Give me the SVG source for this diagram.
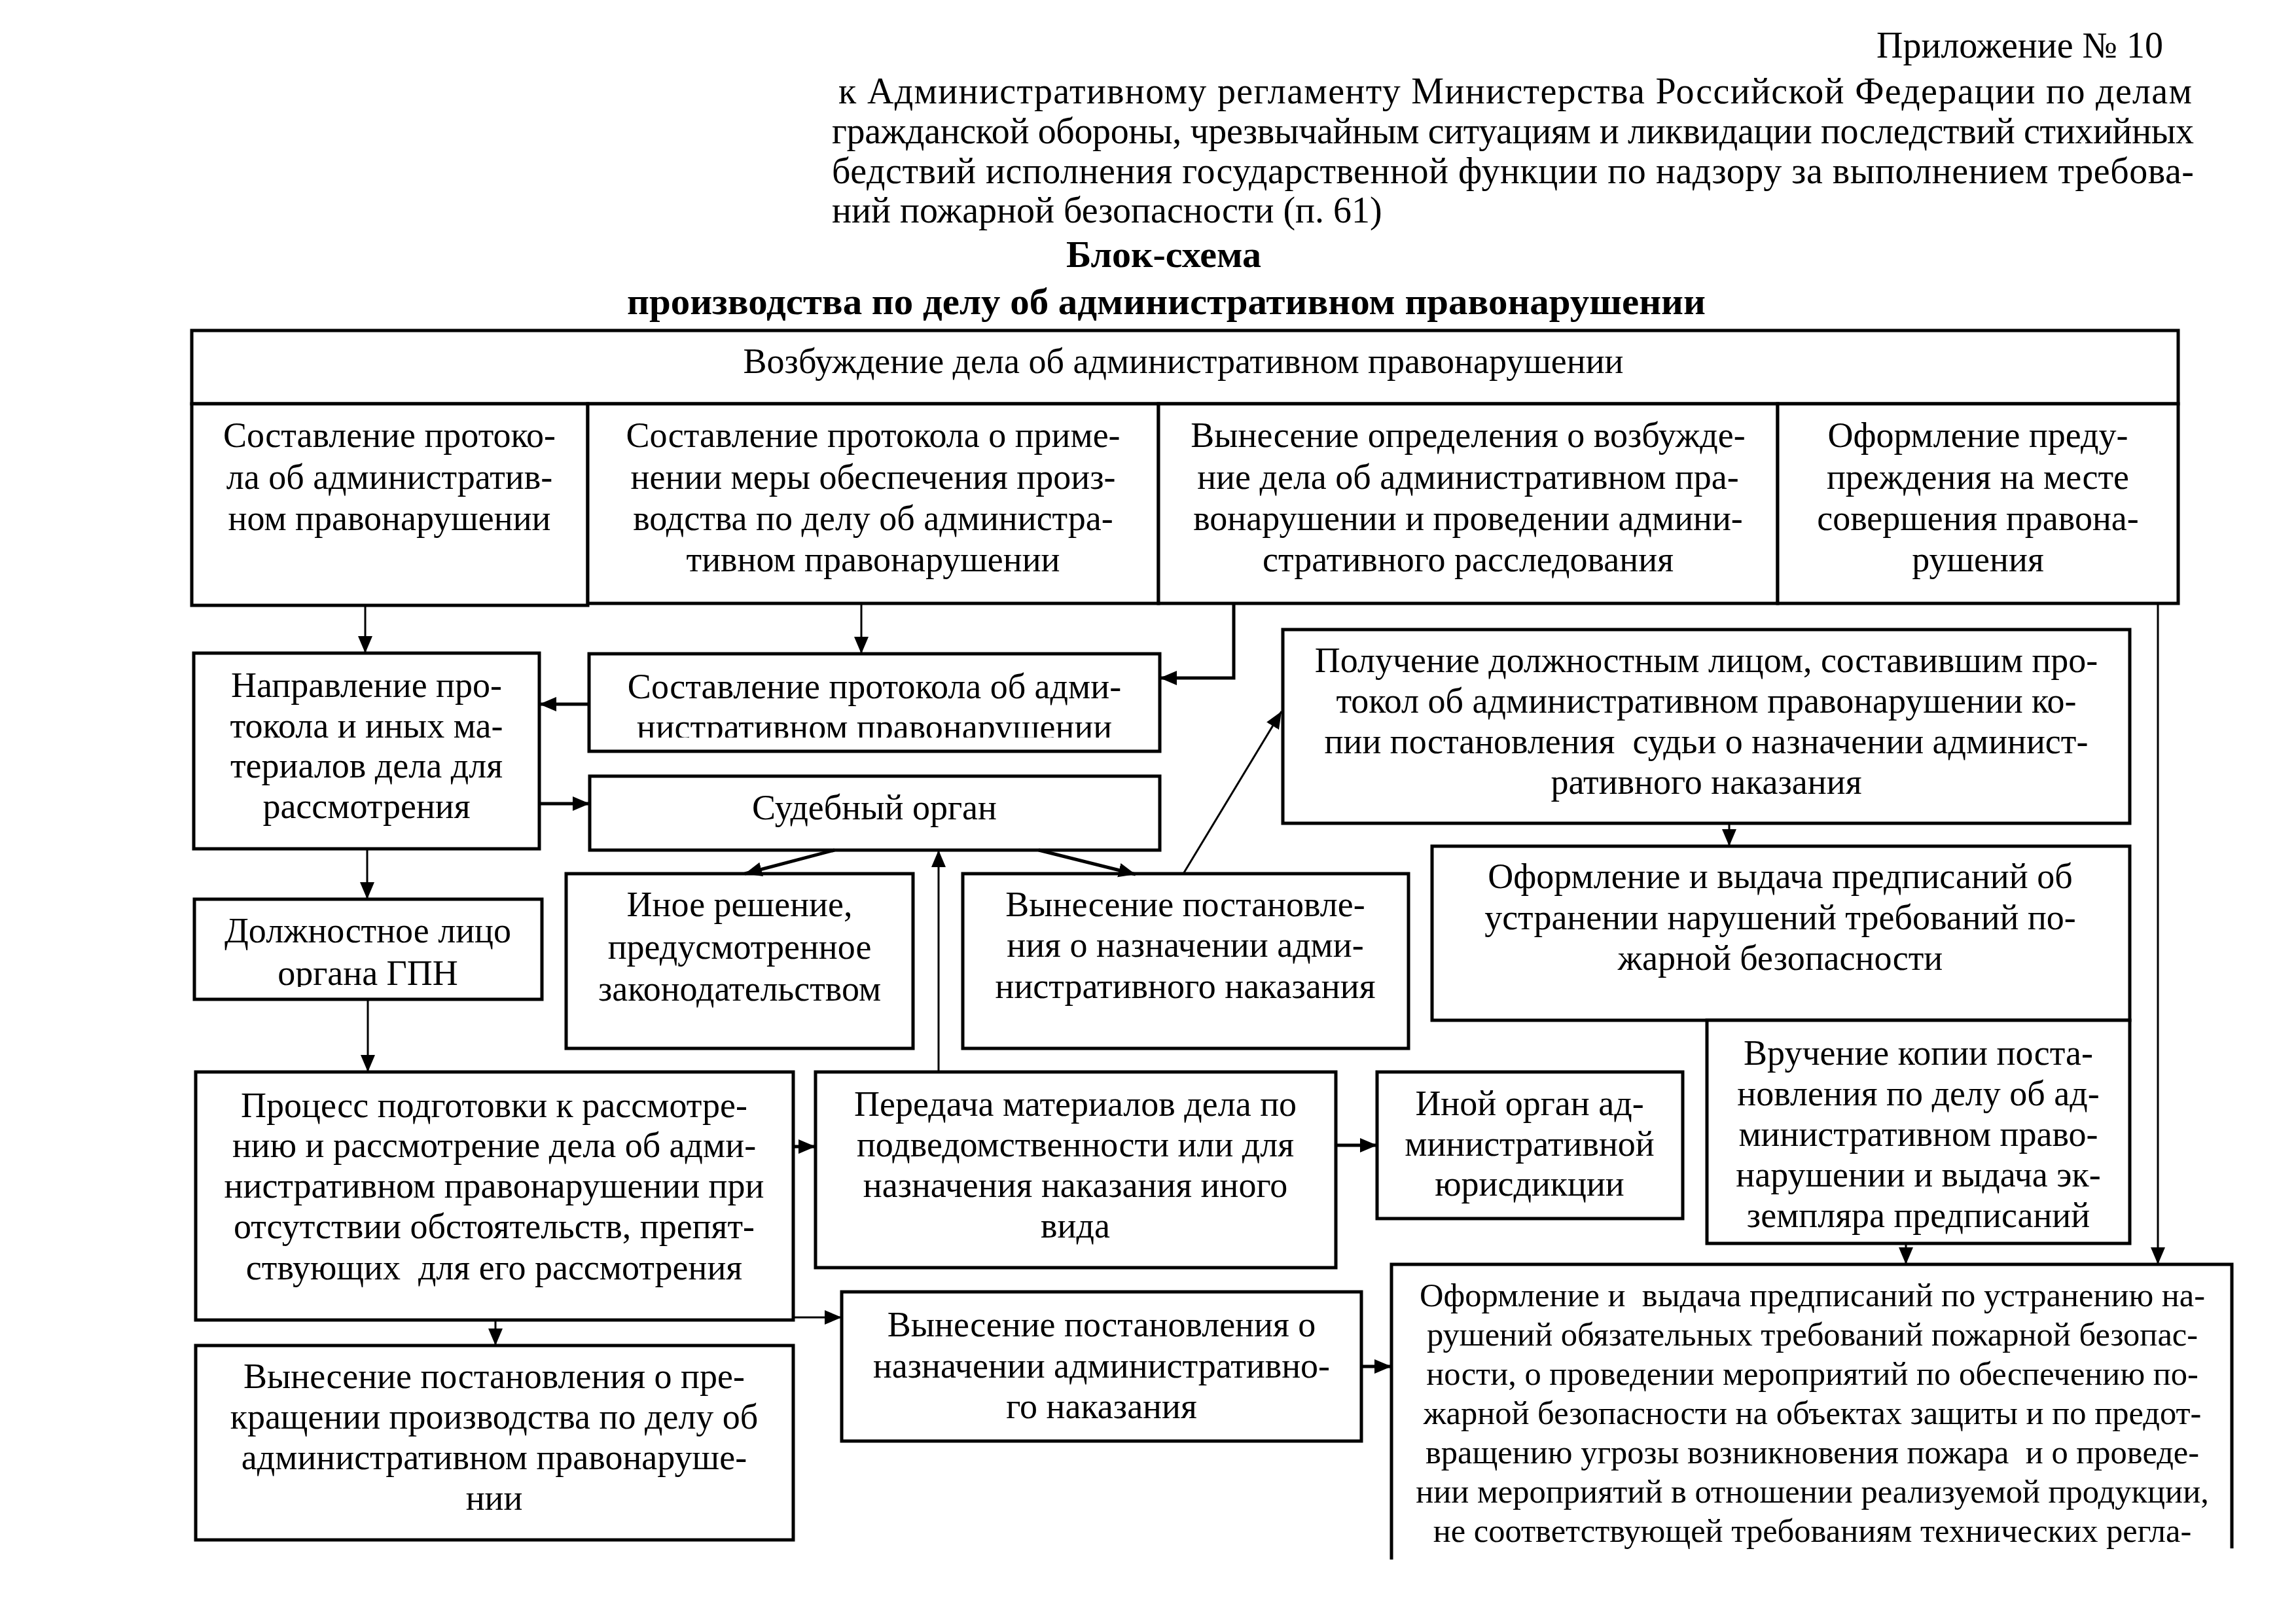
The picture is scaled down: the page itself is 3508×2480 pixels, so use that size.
<svg xmlns="http://www.w3.org/2000/svg" width="3508" height="2480" viewBox="0 0 3508 2480">
<style>
.b{fill:#fff;stroke:#000;stroke-width:5}
.t{font-family:"Liberation Serif","Times New Roman",serif;font-size:54px;text-anchor:middle;fill:#000;white-space:pre}
.tb{font-size:50.5px}
.h{font-family:"Liberation Serif","Times New Roman",serif;font-size:56px;fill:#000;white-space:pre}
.hb{font-family:"Liberation Serif","Times New Roman",serif;font-size:58px;font-weight:bold;text-anchor:middle;fill:#000}
.c{stroke:#000;stroke-width:3;fill:none}
.ck{stroke:#000;stroke-width:5;fill:none}
</style>
<defs>
<marker id="ah" markerUnits="userSpaceOnUse" markerWidth="28" markerHeight="24" refX="26" refY="11" orient="auto"><path d="M0,0 L26,11 L0,22 z" fill="#000"/></marker>
<clipPath id="clipS2"><rect x="900" y="999" width="872" height="128"/></clipPath>
<clipPath id="clipD"><rect x="297" y="1374" width="531" height="134"/></clipPath>
</defs>
<rect width="3508" height="2480" fill="#fff"/>
<g id="header">
<text class="h" x="3305" y="88" text-anchor="end" font-size="54">Приложение № 10</text>
<text class="h" x="1281" y="158" textLength="2068" lengthAdjust="spacing">к Административному регламенту Министерства Российской Федерации по делам</text>
<text class="h" x="1271" y="219" textLength="2081" lengthAdjust="spacing">гражданской обороны, чрезвычайным ситуациям и ликвидации последствий стихийных</text>
<text class="h" x="1271" y="280" textLength="2081" lengthAdjust="spacing">бедствий исполнения государственной функции по надзору за выполнением требова-</text>
<text class="h" x="1271" y="340">ний пожарной безопасности (п. 61)</text>
<text class="hb" x="1778" y="408">Блок-схема</text>
<text class="hb" x="1782" y="480" textLength="1648" lengthAdjust="spacingAndGlyphs">производства по делу об административном правонарушении</text>
</g>
<g id="n_top"><rect class="b" x="293" y="505" width="3035" height="112"/><text class="t" x="1808" y="570">Возбуждение дела об административном правонарушении</text></g>
<g id="n_a"><rect class="b" x="293" y="617" width="605" height="308"/>
<text class="t" x="595" y="683">Составление протоко-</text><text class="t" x="595" y="747">ла об административ-</text><text class="t" x="595" y="810">ном правонарушении</text></g>
<g id="n_b"><rect class="b" x="898" y="617" width="872" height="305"/>
<text class="t" x="1334" y="683">Составление протокола о приме-</text><text class="t" x="1334" y="747">нении меры обеспечения произ-</text><text class="t" x="1334" y="810">водства по делу об администра-</text><text class="t" x="1334" y="873">тивном правонарушении</text></g>
<g id="n_c"><rect class="b" x="1770" y="617" width="946" height="305"/>
<text class="t" x="2243" y="683">Вынесение определения о возбужде-</text><text class="t" x="2243" y="747">ние дела об административном пра-</text><text class="t" x="2243" y="810">вонарушении и проведении админи-</text><text class="t" x="2243" y="873">стративного расследования</text></g>
<g id="n_d"><rect class="b" x="2716" y="617" width="612" height="305"/>
<text class="t" x="3022" y="683">Оформление преду-</text><text class="t" x="3022" y="747">преждения на месте</text><text class="t" x="3022" y="810">совершения правона-</text><text class="t" x="3022" y="873">рушения</text></g>
<g id="n_napr"><rect class="b" x="296" y="998" width="528" height="299"/>
<text class="t" x="560" y="1065">Направление про-</text><text class="t" x="560" y="1127">токола и иных ма-</text><text class="t" x="560" y="1188">териалов дела для</text><text class="t" x="560" y="1250">рассмотрения</text></g>
<g id="n_sost2"><rect class="b" x="900" y="999" width="872" height="149"/>
<g clip-path="url(#clipS2)"><text class="t" x="1336" y="1067">Составление протокола об адми-</text><text class="t" x="1336" y="1129">нистративном правонарушении</text></g></g>
<g id="n_sud"><rect class="b" x="901" y="1186" width="871" height="113"/><text class="t" x="1336" y="1252">Судебный орган</text></g>
<g id="n_poluch"><rect class="b" x="1960" y="962" width="1294" height="296"/>
<text class="t" x="2607" y="1027">Получение должностным лицом, составившим про-</text><text class="t" x="2607" y="1089">токол об административном правонарушении ко-</text><text class="t" x="2607" y="1151">пии постановления  судьи о назначении админист-</text><text class="t" x="2607" y="1213">ративного наказания</text></g>
<g id="n_dolzh"><rect class="b" x="297" y="1374" width="531" height="153"/>
<g clip-path="url(#clipD)"><text class="t" x="562" y="1440">Должностное лицо</text><text class="t" x="562" y="1505">органа ГПН</text></g></g>
<g id="n_inoe"><rect class="b" x="865" y="1335" width="530" height="267"/>
<text class="t" x="1130" y="1400">Иное решение,</text><text class="t" x="1130" y="1465">предусмотренное</text><text class="t" x="1130" y="1529">законодательством</text></g>
<g id="n_vyn1"><rect class="b" x="1471" y="1335" width="681" height="267"/>
<text class="t" x="1811" y="1400">Вынесение постановле-</text><text class="t" x="1811" y="1462">ния о назначении адми-</text><text class="t" x="1811" y="1525">нистративного наказания</text></g>
<g id="n_oform"><rect class="b" x="2188" y="1293" width="1066" height="266"/>
<text class="t" x="2720" y="1357">Оформление и выдача предписаний об</text><text class="t" x="2720" y="1420">устранении нарушений требований по-</text><text class="t" x="2720" y="1482">жарной безопасности</text></g>
<g id="n_vruch"><rect class="b" x="2608" y="1559" width="646" height="341"/>
<text class="t" x="2931" y="1627">Вручение копии поста-</text><text class="t" x="2931" y="1689">новления по делу об ад-</text><text class="t" x="2931" y="1751">министративном право-</text><text class="t" x="2931" y="1813">нарушении и выдача эк-</text><text class="t" x="2931" y="1875">земпляра предписаний</text></g>
<g id="n_proc"><rect class="b" x="299" y="1638" width="913" height="379"/>
<text class="t" x="755" y="1707">Процесс подготовки к рассмотре-</text><text class="t" x="755" y="1768">нию и рассмотрение дела об адми-</text><text class="t" x="755" y="1830">нистративном правонарушении при</text><text class="t" x="755" y="1892">отсутствии обстоятельств, препят-</text><text class="t" x="755" y="1955">ствующих  для его рассмотрения</text></g>
<g id="n_pered"><rect class="b" x="1246" y="1638" width="795" height="299"/>
<text class="t" x="1643" y="1705">Передача материалов дела по</text><text class="t" x="1643" y="1767">подведомственности или для</text><text class="t" x="1643" y="1829">назначения наказания иного</text><text class="t" x="1643" y="1891">вида</text></g>
<g id="n_inoj"><rect class="b" x="2104" y="1638" width="467" height="224"/>
<text class="t" x="2337" y="1704">Иной орган ад-</text><text class="t" x="2337" y="1766">министративной</text><text class="t" x="2337" y="1827">юрисдикции</text></g>
<g id="n_prekr"><rect class="b" x="299" y="2056" width="913" height="297"/>
<text class="t" x="755" y="2121">Вынесение постановления о пре-</text><text class="t" x="755" y="2183">кращении производства по делу об</text><text class="t" x="755" y="2245">административном правонаруше-</text><text class="t" x="755" y="2307">нии</text></g>
<g id="n_nazn"><rect class="b" x="1286" y="1974" width="794" height="228"/>
<text class="t" x="1683" y="2042">Вынесение постановления о</text><text class="t" x="1683" y="2105">назначении административно-</text><text class="t" x="1683" y="2167">го наказания</text></g>
<g id="n_big"><path class="b" fill="#fff" d="M2126,2383 V1932 H3410 V2366"/>
<text class="t tb" x="2769" y="1996">Оформление и  выдача предписаний по устранению на-</text><text class="t tb" x="2769" y="2056">рушений обязательных требований пожарной безопас-</text><text class="t tb" x="2769" y="2116">ности, о проведении мероприятий по обеспечению по-</text><text class="t tb" x="2769" y="2176">жарной безопасности на объектах защиты и по предот-</text><text class="t tb" x="2769" y="2236">вращению угрозы возникновения пожара  и о проведе-</text><text class="t tb" x="2769" y="2296">нии мероприятий в отношении реализуемой продукции,</text><text class="t tb" x="2769" y="2356">не соответствующей требованиям технических регла-</text></g>
<g id="connectors">
<path class="c" d="M558,925 V998" marker-end="url(#ah)"/>
<path class="c" d="M1316,922 V999" marker-end="url(#ah)"/>
<path class="ck" d="M1885,922 V1036 H1772" marker-end="url(#ah)"/>
<path class="c" d="M3297,922 V1932" marker-end="url(#ah)"/>
<path class="ck" d="M900,1076 H824" marker-end="url(#ah)"/>
<path class="ck" d="M824,1228 H901" marker-end="url(#ah)"/>
<path class="c" d="M561,1297 V1374" marker-end="url(#ah)"/>
<path class="ck" d="M1275,1299 L1138,1335" marker-end="url(#ah)"/>
<path class="ck" d="M1587,1299 L1735,1336" marker-end="url(#ah)"/>
<path class="c" d="M1434,1638 V1299" marker-end="url(#ah)"/>
<path class="c" d="M1808,1335 L1958,1087" marker-end="url(#ah)"/>
<path class="c" d="M2642,1258 V1293" marker-end="url(#ah)"/>
<path class="c" d="M562,1527 V1638" marker-end="url(#ah)"/>
<path class="ck" d="M1212,1752 H1246" marker-end="url(#ah)"/>
<path class="ck" d="M2041,1750 H2104" marker-end="url(#ah)"/>
<path class="c" d="M757,2017 V2056" marker-end="url(#ah)"/>
<path class="c" d="M1212,2013 H1286" marker-end="url(#ah)"/>
<path class="ck" d="M2080,2088 H2126" marker-end="url(#ah)"/>
<path class="c" d="M2912,1900 V1932" marker-end="url(#ah)"/>
</g>
</svg>
